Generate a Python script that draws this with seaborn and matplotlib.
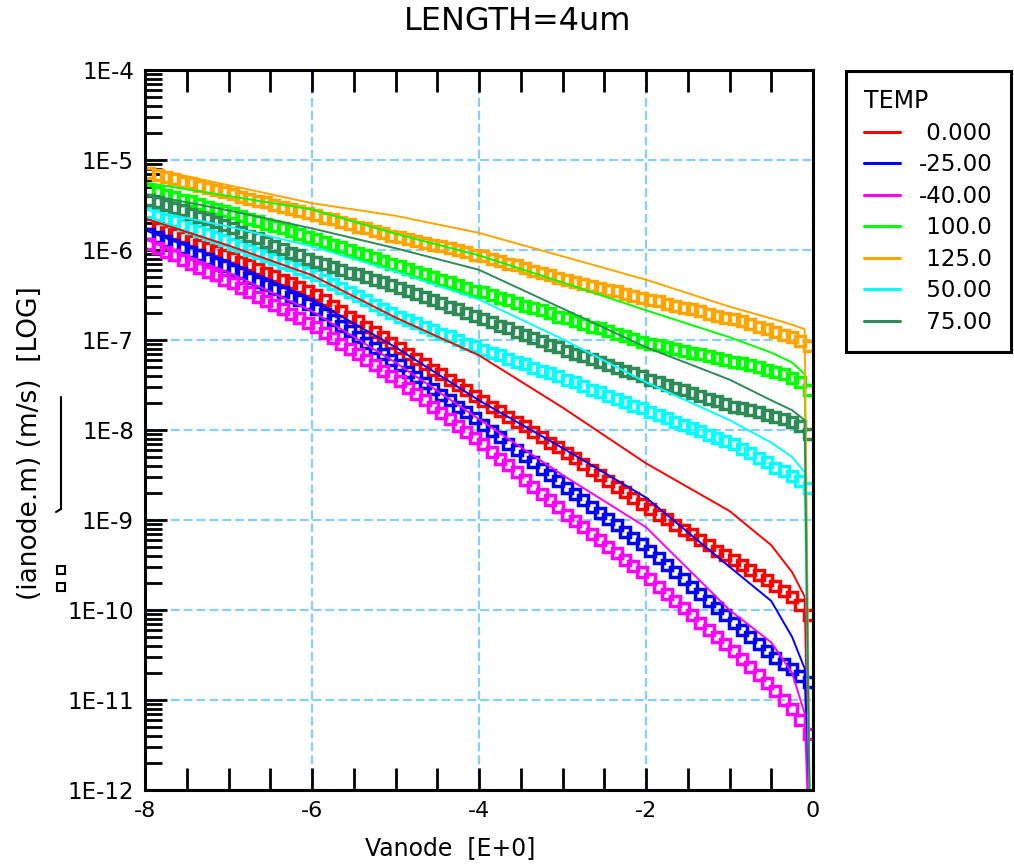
import numpy as np
import matplotlib
matplotlib.use("Agg")
import matplotlib.pyplot as plt
import seaborn as sns
from matplotlib.lines import Line2D
from matplotlib.ticker import MultipleLocator, LogLocator, NullFormatter

# ---------------- data (log10 of ianode current) -------------
temps = ["0.000", "-25.00", "-40.00", "100.0", "125.0", "50.00", "75.00"]
colors = ["#ff0000", "#0000ff", "#ff00ff", "#00ff00", "#ffa500", "#00ffff", "#2e8b57"]

v_markers = [-7.95, -7.85, -7.75, -7.65, -7.55, -7.45, -7.35, -7.25, -7.15, -7.05,
             -6.95, -6.85, -6.75, -6.65, -6.55, -6.45, -6.35, -6.25, -6.15, -6.05,
             -5.95, -5.85, -5.75, -5.65, -5.55, -5.45, -5.35, -5.25, -5.15, -5.05,
             -4.95, -4.85, -4.75, -4.65, -4.55, -4.45, -4.35, -4.25, -4.15, -4.05,
             -3.95, -3.85, -3.75, -3.65, -3.55, -3.45, -3.35, -3.25, -3.15, -3.05,
             -2.95, -2.85, -2.75, -2.65, -2.55, -2.45, -2.35, -2.25, -2.15, -2.05,
             -1.95, -1.85, -1.75, -1.65, -1.55, -1.45, -1.35, -1.25, -1.15, -1.05,
             -0.95, -0.85, -0.75, -0.65, -0.55, -0.45, -0.35, -0.25, -0.15, -0.05]

v_lines = [-8.0, -7.0, -6.0, -5.0, -4.0, -3.0, -2.0, -1.0, -0.5, -0.25, -0.1, -0.03]

# square-marker series
m_0 = [-5.71, -5.75, -5.79, -5.82, -5.86, -5.90, -5.94, -5.98, -6.01, -6.05,
       -6.09, -6.13, -6.17, -6.21, -6.25, -6.29, -6.33, -6.37, -6.41, -6.45,
       -6.50, -6.56, -6.62, -6.68, -6.74, -6.79, -6.85, -6.91, -6.97, -7.03,
       -7.09, -7.15, -7.21, -7.27, -7.33, -7.38, -7.44, -7.50, -7.56, -7.62,
       -7.68, -7.74, -7.79, -7.85, -7.91, -7.96, -8.02, -8.08, -8.14, -8.19,
       -8.25, -8.31, -8.38, -8.44, -8.50, -8.57, -8.63, -8.69, -8.76, -8.82,
       -8.88, -8.94, -8.99, -9.05, -9.11, -9.16, -9.22, -9.28, -9.34, -9.39,
       -9.45, -9.50, -9.56, -9.61, -9.67, -9.73, -9.79, -9.86, -9.94, -10.05]
m_m25 = [-5.82, -5.86, -5.90, -5.94, -5.98, -6.02, -6.06, -6.10, -6.14, -6.18,
         -6.22, -6.26, -6.31, -6.35, -6.39, -6.43, -6.47, -6.52, -6.56, -6.60,
         -6.65, -6.71, -6.78, -6.84, -6.90, -6.97, -7.03, -7.09, -7.15, -7.22,
         -7.28, -7.35, -7.41, -7.48, -7.54, -7.61, -7.67, -7.74, -7.80, -7.87,
         -7.94, -8.01, -8.08, -8.15, -8.22, -8.29, -8.36, -8.43, -8.50, -8.57,
         -8.64, -8.71, -8.78, -8.85, -8.92, -8.99, -9.06, -9.13, -9.20, -9.27,
         -9.34, -9.42, -9.50, -9.58, -9.66, -9.74, -9.82, -9.90, -9.98, -10.06,
         -10.14, -10.22, -10.30, -10.38, -10.46, -10.53, -10.60, -10.66, -10.73, -10.80]
m_m40 = [-5.93, -5.98, -6.02, -6.06, -6.11, -6.15, -6.20, -6.24, -6.28, -6.33,
         -6.37, -6.42, -6.47, -6.52, -6.57, -6.61, -6.66, -6.71, -6.76, -6.81,
         -6.86, -6.92, -6.98, -7.04, -7.10, -7.16, -7.22, -7.28, -7.34, -7.40,
         -7.46, -7.53, -7.60, -7.67, -7.74, -7.81, -7.88, -7.95, -8.02, -8.09,
         -8.16, -8.24, -8.32, -8.39, -8.47, -8.55, -8.63, -8.71, -8.78, -8.86,
         -8.94, -9.01, -9.08, -9.15, -9.22, -9.30, -9.37, -9.44, -9.51, -9.58,
         -9.66, -9.74, -9.82, -9.90, -9.98, -10.06, -10.14, -10.22, -10.30, -10.38,
         -10.46, -10.54, -10.63, -10.72, -10.81, -10.90, -11.00, -11.10, -11.22, -11.38]
m_100 = [-5.33, -5.36, -5.39, -5.41, -5.44, -5.46, -5.49, -5.52, -5.54, -5.57,
         -5.59, -5.62, -5.65, -5.68, -5.71, -5.73, -5.76, -5.79, -5.82, -5.85,
         -5.88, -5.91, -5.94, -5.97, -6.00, -6.03, -6.06, -6.09, -6.12, -6.15,
         -6.18, -6.21, -6.24, -6.27, -6.30, -6.33, -6.36, -6.39, -6.42, -6.45,
         -6.47, -6.50, -6.53, -6.56, -6.59, -6.62, -6.64, -6.67, -6.70, -6.74,
         -6.76, -6.79, -6.82, -6.85, -6.87, -6.90, -6.93, -6.96, -6.99, -7.02,
         -7.04, -7.06, -7.08, -7.10, -7.12, -7.14, -7.16, -7.18, -7.20, -7.22,
         -7.24, -7.26, -7.28, -7.30, -7.33, -7.35, -7.38, -7.42, -7.47, -7.56]
m_125 = [-5.14, -5.17, -5.19, -5.21, -5.24, -5.26, -5.29, -5.31, -5.33, -5.36,
         -5.38, -5.41, -5.43, -5.45, -5.47, -5.50, -5.52, -5.54, -5.57, -5.59,
         -5.61, -5.64, -5.66, -5.69, -5.71, -5.74, -5.76, -5.79, -5.81, -5.84,
         -5.86, -5.88, -5.90, -5.92, -5.94, -5.96, -5.98, -6.00, -6.02, -6.05,
         -6.07, -6.10, -6.12, -6.15, -6.17, -6.20, -6.23, -6.25, -6.28, -6.31,
         -6.33, -6.35, -6.38, -6.40, -6.42, -6.44, -6.46, -6.49, -6.51, -6.53,
         -6.55, -6.57, -6.60, -6.62, -6.64, -6.66, -6.68, -6.71, -6.73, -6.75,
         -6.77, -6.79, -6.82, -6.85, -6.88, -6.91, -6.94, -6.97, -7.01, -7.07]
m_50 = [-5.58, -5.61, -5.65, -5.68, -5.72, -5.75, -5.79, -5.82, -5.86, -5.89,
        -5.93, -5.96, -6.00, -6.03, -6.07, -6.10, -6.14, -6.17, -6.21, -6.24,
        -6.28, -6.33, -6.38, -6.42, -6.47, -6.51, -6.56, -6.61, -6.65, -6.70,
        -6.74, -6.78, -6.81, -6.85, -6.89, -6.93, -6.96, -7.00, -7.04, -7.07,
        -7.11, -7.14, -7.17, -7.21, -7.24, -7.27, -7.31, -7.34, -7.37, -7.40,
        -7.44, -7.47, -7.51, -7.55, -7.58, -7.62, -7.65, -7.69, -7.73, -7.76,
        -7.80, -7.83, -7.87, -7.91, -7.94, -7.98, -8.01, -8.05, -8.09, -8.12,
        -8.16, -8.21, -8.26, -8.31, -8.36, -8.42, -8.46, -8.51, -8.57, -8.64]
m_75 = [-5.44, -5.47, -5.50, -5.53, -5.56, -5.60, -5.63, -5.66, -5.69, -5.72,
        -5.76, -5.80, -5.84, -5.87, -5.91, -5.95, -5.99, -6.03, -6.06, -6.10,
        -6.13, -6.16, -6.19, -6.22, -6.25, -6.27, -6.30, -6.33, -6.36, -6.39,
        -6.42, -6.45, -6.49, -6.52, -6.56, -6.59, -6.63, -6.66, -6.70, -6.73,
        -6.77, -6.80, -6.84, -6.87, -6.91, -6.94, -6.98, -7.01, -7.05, -7.08,
        -7.12, -7.15, -7.18, -7.21, -7.24, -7.28, -7.31, -7.34, -7.37, -7.40,
        -7.44, -7.47, -7.50, -7.53, -7.56, -7.59, -7.62, -7.65, -7.68, -7.71,
        -7.74, -7.76, -7.78, -7.80, -7.83, -7.85, -7.88, -7.91, -7.96, -8.04]

# thin-line series (last point falls below the axis: the drop at Vanode ~ 0)
l_0 = [-5.65, -5.95, -6.28, -6.75, -7.17, -7.75, -8.37, -8.90, -9.28, -9.58, -9.85, -13.0]
l_m25 = [-5.78, -6.13, -6.55, -7.08, -7.67, -8.20, -8.75, -9.52, -9.90, -10.30, -10.65, -13.0]
l_m40 = [-5.88, -6.25, -6.68, -7.25, -7.88, -8.50, -9.08, -10.00, -10.36, -10.70, -11.15, -13.0]
l_100 = [-5.25, -5.40, -5.55, -5.82, -6.06, -6.36, -6.67, -6.97, -7.14, -7.25, -7.38, -13.0]
l_125 = [-5.08, -5.28, -5.48, -5.62, -5.81, -6.07, -6.33, -6.63, -6.76, -6.83, -6.88, -13.0]
l_50 = [-5.55, -5.74, -5.96, -6.24, -6.55, -6.99, -7.47, -7.89, -8.14, -8.30, -8.47, -13.0]
l_75 = [-5.38, -5.56, -5.76, -5.98, -6.22, -6.65, -7.08, -7.44, -7.67, -7.78, -7.89, -13.0]

x_tick_values = [-8, -6, -4, -2, 0]
x_tick_labels = ["-8", "-6", "-4", "-2", "0"]
y_tick_values = [1e-12, 1e-11, 1e-10, 1e-9, 1e-8, 1e-7, 1e-6, 1e-5, 1e-4]
y_tick_labels = ["1E-12", "1E-11", "1E-10", "1E-9", "1E-8", "1E-7", "1E-6", "1E-5", "1E-4"]

marker_series = [m_0, m_m25, m_m40, m_100, m_125, m_50, m_75]
line_series = [l_0, l_m25, l_m40, l_100, l_125, l_50, l_75]

# ---------------- style ----------------
sns.set_theme(style="white")
plt.rcParams["font.family"] = ["DejaVu Sans"]
plt.rcParams["axes.unicode_minus"] = False
plt.rcParams["text.color"] = "black"
plt.rcParams["axes.labelcolor"] = "black"
plt.rcParams["xtick.color"] = "black"
plt.rcParams["ytick.color"] = "black"

W, H = 1014, 867
fig = plt.figure(figsize=(W / 100, H / 100), dpi=100)
fig.patch.set_facecolor("white")
ax = fig.add_axes([145 / W, 77 / H, 668 / W, 720 / H])
ax.set_facecolor("white")

for color, mvals in zip(colors, marker_series):
    sns.lineplot(x=v_markers, y=10 ** np.array(mvals), ax=ax, color=color,
                 marker="s", markersize=7.6, mew=2.5, mec=color, mfc="none",
                 linestyle="none", estimator=None, sort=False, legend=False)
for color, lvals in zip(colors, line_series):
    sns.lineplot(x=v_lines, y=10 ** np.array(lvals), ax=ax, color=color,
                 linewidth=1.4, estimator=None, sort=False, legend=False)

ax.set_yscale("log")
ax.set_xlim(-8, 0)
ax.set_ylim(1e-12, 1e-4)

ax.set_xticks(x_tick_values, x_tick_labels)
ax.xaxis.set_minor_locator(MultipleLocator(0.5))
ax.set_yticks(y_tick_values, y_tick_labels)
ax.yaxis.set_minor_locator(LogLocator(base=10, subs=np.arange(2, 10), numticks=30))
ax.yaxis.set_minor_formatter(NullFormatter())

ax.tick_params(axis="x", which="both", direction="in", top=True, bottom=True,
               width=2, length=16, labelsize=16, pad=8, colors="black", labelcolor="black")
ax.tick_params(axis="y", which="major", direction="in", left=True, right=False,
               width=2, length=16, labelsize=16.5, pad=8, colors="black", labelcolor="black")
ax.tick_params(axis="y", which="minor", direction="in", left=True, right=False,
               width=2, length=12, colors="black")

for s in ax.spines.values():
    s.set_visible(True)
    s.set_color("black")
    s.set_linewidth(2.2)

ax.grid(True, which="major", color="#87cefa", linestyle=(0, (4, 1.8)), linewidth=1.6)
ax.grid(False, which="minor")

fig.text(0.51, 1 - 22 / H, "LENGTH=4um", ha="center", va="center", fontsize=23,
         color="black")

ax.set_xlabel("Vanode  [E+0]", fontsize=17, color="black")
ax.xaxis.set_label_coords(0.457, -0.08)
ax.xaxis.label.set_va("center")

ax.set_ylabel("(ianode.m) (m/s)  [LOG]", fontsize=19, color="black")
ax.yaxis.set_label_coords(-0.172, 0.482)
ax.yaxis.label.set_va("center")

# small line / square keys next to the y label
fig.add_artist(Line2D([61 / W, 61 / W], [1 - 397 / H, 1 - 509 / H],
                      transform=fig.transFigure, color="black", lw=1.5))
fig.add_artist(Line2D([56 / W, 61 / W], [1 - 512 / H, 1 - 509 / H],
                      transform=fig.transFigure, color="black", lw=1.5))
fig.add_artist(Line2D([61 / W, 61 / W], [1 - 570 / H, 1 - 587 / H],
                      transform=fig.transFigure, linestyle="none", marker="s",
                      markersize=6, mfc="none", mec="black", mew=1.5))

handles = [Line2D([], [], color=c, lw=2.2) for c in colors]
labels = [t if t.startswith("-") else " " + t for t in temps]
leg = fig.legend(handles, labels, title="TEMP", loc="upper left",
                 bbox_to_anchor=(846 / W, 1 - 71 / H), bbox_transform=fig.transFigure,
                 frameon=True, fancybox=False, edgecolor="black", framealpha=1,
                 fontsize=16.5, title_fontsize=17, handlelength=1.55,
                 handletextpad=0.85, labelspacing=0.37, borderpad=0.8,
                 alignment="left", borderaxespad=0)
leg.get_frame().set_linewidth(2.2)
for t in leg.get_texts():
    t.set_color("black")
leg.get_title().set_color("black")

fig.savefig("out.png", dpi=100, facecolor="white")
